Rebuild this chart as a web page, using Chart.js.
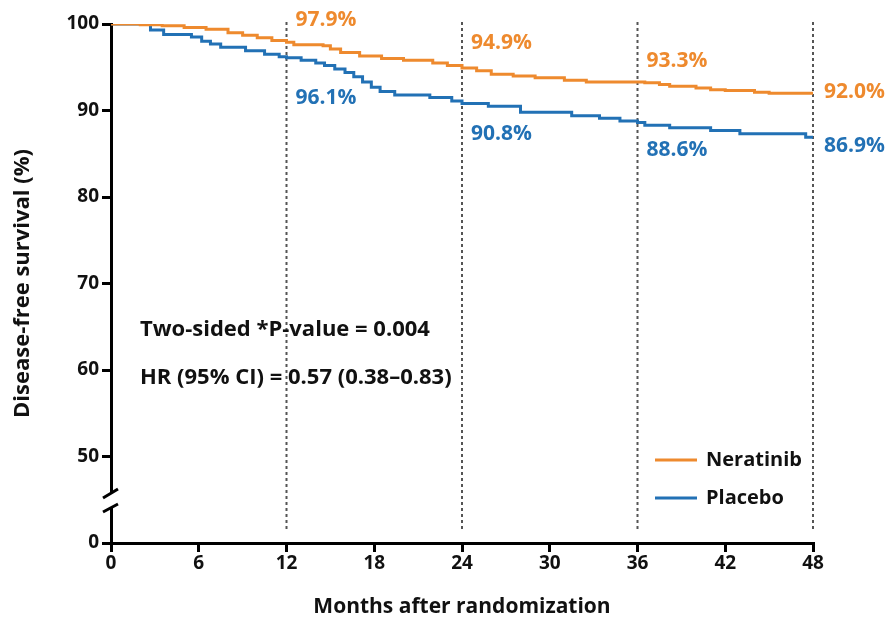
<!DOCTYPE html>
<html>
<head>
<meta charset="utf-8">
<script src="https://cdn.jsdelivr.net/npm/chart.js@4"></script>
<style>
  html, body { margin: 0; padding: 0; background: #fff; }
  #wrap { width: 891px; height: 620px; }
</style>
</head>
<body>
<div id="wrap"><canvas id="km"></canvas></div>
<script>
// Kaplan-Meier read-offs (months, DFS %)
const neratinibMonths = [0, 2, 3.5, 5, 6.5, 8, 9, 10, 11, 12, 12.5, 14.5, 15, 15.7, 17, 18.5, 20, 22, 23, 24, 25, 26, 27.5, 29, 31, 32.5, 36.5, 37.5, 38.2, 40, 41, 42, 44, 45, 48];
const neratinibDFS = [100, 99.9, 99.8, 99.6, 99.4, 99.0, 98.7, 98.4, 98.1, 97.9, 97.6, 97.5, 97.1, 96.7, 96.3, 96.0, 95.8, 95.5, 95.2, 94.9, 94.6, 94.2, 94.0, 93.8, 93.5, 93.3, 93.2, 93.0, 92.8, 92.6, 92.4, 92.3, 92.1, 92.0, 92.0];

const placeboMonths = [0, 2.7, 3.6, 5.5, 6.2, 6.8, 7.5, 9.2, 10.5, 11.5, 12, 13, 14, 14.6, 15.3, 16, 16.6, 17.2, 17.8, 18.4, 19.4, 21.8, 23.3, 24, 25.8, 28, 31.5, 33.4, 34.8, 36, 36.5, 38.2, 41, 43, 47.5, 48];
const placeboDFS = [100, 99.3, 98.8, 98.5, 98.0, 97.7, 97.3, 96.9, 96.5, 96.2, 96.1, 95.8, 95.5, 95.2, 94.8, 94.4, 93.9, 93.3, 92.7, 92.2, 91.8, 91.5, 91.1, 90.8, 90.5, 89.8, 89.4, 89.1, 88.8, 88.6, 88.3, 88.0, 87.7, 87.3, 86.9, 86.9];

// landmark estimates printed on the chart
const landmarkMonths = [12, 24, 36, 48];
const neratinibLandmarks = [97.9, 94.9, 93.3, 92.0];
const placeboLandmarks = [96.1, 90.8, 88.6, 86.9];

const xTicks = [0, 6, 12, 18, 24, 30, 36, 42, 48];
const yTicks = [40, 50, 60, 70, 80, 90, 100]; // 40 stands for the broken-axis "0"
const statLines = ['Two-sided *P-value = 0.004', 'HR (95% CI) = 0.57 (0.38\u20130.83)'];

const ORANGE = '#EE8A2E';
const BLUE = '#2271B5';
const FONT = '"Open Sans", sans-serif';

function toPoints(xs, ys) {
    return xs.map((x, i) => ({ x: x, y: ys[i] }));
}

// draws dashed landmark lines, the axis break, labels, stats text and the legend
const overlayPlugin = {
    id: 'overlay',
    beforeDatasetsDraw(chart) {
        const { ctx, scales: { x } } = chart;
        ctx.save();
        ctx.strokeStyle = '#555';
        ctx.lineWidth = 2;
        ctx.setLineDash([3, 3]);
        landmarkMonths.forEach(m => {
            const px = x.getPixelForValue(m);
            ctx.beginPath();
            ctx.moveTo(px, 22);
            ctx.lineTo(px, 530);
            ctx.stroke();
        });
        ctx.restore();
    },
    afterDraw(chart) {
        const { ctx, scales: { x, y }, chartArea } = chart;
        ctx.save();

        // axis break
        const left = chartArea.left;
        ctx.fillStyle = '#fff';
        ctx.fillRect(left - 3, 493, 6, 14);
        ctx.strokeStyle = '#000';
        ctx.lineWidth = 3;
        ctx.beginPath();
        ctx.moveTo(left - 8, 498);
        ctx.lineTo(left + 7, 489);
        ctx.moveTo(left - 8, 512);
        ctx.lineTo(left + 7, 504);
        ctx.stroke();

        // landmark labels
        ctx.font = 'bold 21px ' + FONT;
        ctx.textAlign = 'left';
        ctx.textBaseline = 'middle';
        const orangeDy = [-22, -25, -21, -1];
        const blueDy = [40, 30, 27, 9];
        landmarkMonths.forEach((m, i) => {
            const px = x.getPixelForValue(m) + (i === 3 ? 11 : 9);
            ctx.fillStyle = ORANGE;
            ctx.fillText(neratinibLandmarks[i].toFixed(1) + '%', px, y.getPixelForValue(neratinibLandmarks[i]) + orangeDy[i]);
            ctx.fillStyle = BLUE;
            ctx.fillText(placeboLandmarks[i].toFixed(1) + '%', px, y.getPixelForValue(placeboLandmarks[i]) + blueDy[i]);
        });

        // stats text
        ctx.fillStyle = '#111';
        ctx.font = 'bold 22px ' + FONT;
        ctx.fillText(statLines[0], 140, 330);
        ctx.fillText(statLines[1], 140, 378);

        // legend
        ctx.font = 'bold 20px ' + FONT;
        chart.data.datasets.forEach((ds, i) => {
            const ly = 460 + i * 38;
            ctx.strokeStyle = ds.borderColor;
            ctx.lineWidth = 3;
            ctx.beginPath();
            ctx.moveTo(655, ly);
            ctx.lineTo(697, ly);
            ctx.stroke();
            ctx.fillStyle = '#111';
            ctx.fillText(ds.label, 706, ly);
        });
        ctx.restore();
    }
};

const ctx = document.getElementById('km').getContext('2d');
window.kmChart = new Chart(ctx, {
    type: 'line',
    data: {
        datasets: [
            {
                label: 'Neratinib',
                data: toPoints(neratinibMonths, neratinibDFS),
                borderColor: ORANGE,
                borderWidth: 3,
                stepped: 'before',
                pointRadius: 0,
                fill: false
            },
            {
                label: 'Placebo',
                data: toPoints(placeboMonths, placeboDFS),
                borderColor: BLUE,
                borderWidth: 3,
                stepped: 'before',
                pointRadius: 0,
                fill: false
            }
        ]
    },
    options: {
        responsive: true,
        maintainAspectRatio: false,
        animation: false,
        layout: { padding: { left: 0, right: 78, top: 24, bottom: 0 } },
        plugins: {
            legend: { display: false },
            tooltip: { enabled: false }
        },
        scales: {
            x: {
                type: 'linear',
                min: 0,
                max: 48,
                afterBuildTicks: scale => { scale.ticks = xTicks.map(v => ({ value: v })); },
                afterFit: scale => { scale.height = 77; },
                grid: { drawOnChartArea: false, drawTicks: true, tickLength: 9, color: '#000', lineWidth: 3 },
                border: { display: true, color: '#000', width: 3 },
                ticks: { color: '#111', font: { family: FONT, size: 19, weight: 'bold' }, padding: 0, maxRotation: 0 },
                title: { display: true, text: 'Months after randomization', color: '#111', font: { family: FONT, size: 21, weight: 'bold' }, padding: { top: 0, bottom: 0 } }
            },
            y: {
                min: 40,
                max: 100,
                afterBuildTicks: scale => { scale.ticks = yTicks.map(v => ({ value: v })); },
                afterFit: scale => { scale.width = 111; },
                grid: { drawOnChartArea: false, drawTicks: true, tickLength: 9, color: '#000', lineWidth: 3 },
                border: { display: true, color: '#000', width: 3 },
                ticks: {
                    color: '#111',
                    font: { family: FONT, size: 19, weight: 'bold' },
                    padding: 3,
                    callback: v => (v === 40 ? '0' : v)
                },
                title: { display: true, text: 'Disease-free survival (%)', color: '#111', font: { family: FONT, size: 22, weight: 'bold' }, padding: { top: 10, bottom: 0 } }
            }
        }
    },
    plugins: [overlayPlugin]
});
</script>
</body>
</html>
